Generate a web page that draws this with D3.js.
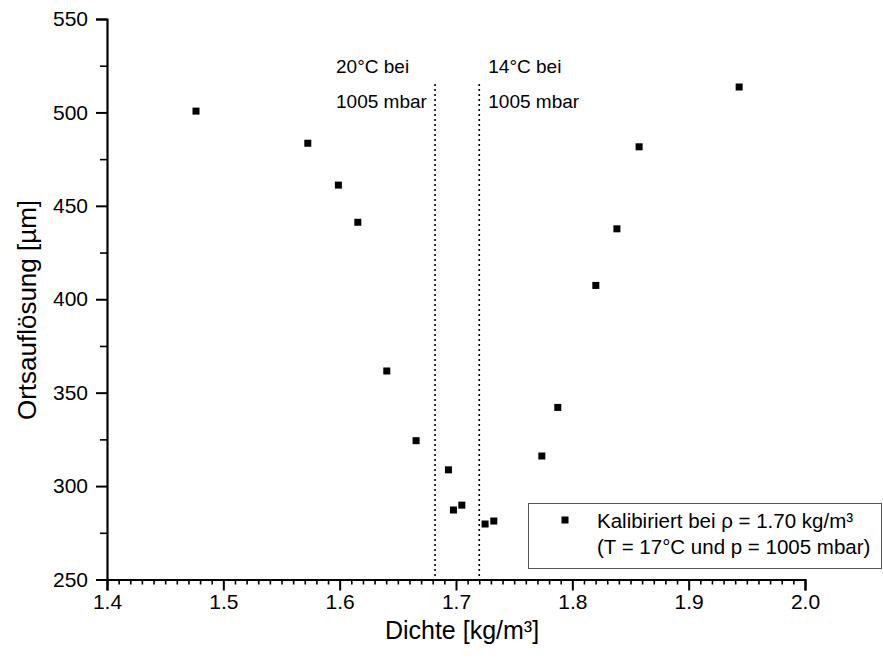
<!DOCTYPE html>
<html>
<head>
<meta charset="utf-8">
<script src="https://cdn.jsdelivr.net/npm/d3@7"></script>
<style>
  html, body { margin: 0; padding: 0; background: #fff; }
  svg { display: block; }
</style>
</head>
<body>
<svg id="chart" width="883" height="666" font-family="Liberation Sans, Arial, sans-serif"></svg>
<script>
// Data
const density = [1.4765, 1.5726, 1.5989, 1.6156, 1.6405, 1.6657, 1.6935, 1.6978, 1.7050, 1.7250, 1.7325, 1.7738, 1.7875, 1.8202, 1.8383, 1.8574, 1.9434];
const resolution = [500.7, 483.5, 461.1, 441.2, 361.6, 324.3, 308.7, 287.2, 289.8, 279.7, 281.3, 316.1, 342.1, 407.4, 437.7, 481.6, 513.6];
const refLines = [1.682, 1.720];
const refLabels = [["20°C bei", "1005 mbar"], ["14°C bei", "1005 mbar"]];
const xTicks = [1.4, 1.5, 1.6, 1.7, 1.8, 1.9, 2.0];
const yTicks = [250, 300, 350, 400, 450, 500, 550];
const xTitle = "Dichte [kg/m³]";
const yTitle = "Ortsauflösung [µm]";
const legendLines = ["Kalibiriert bei ρ = 1.70 kg/m³", "(T = 17°C und p = 1005 mbar)"];

const FONT = "Liberation Sans, Arial, sans-serif";
const svg = d3.select("#chart");
const x = d3.scaleLinear().domain([1.4, 2.0]).range([107, 805]);
const y = d3.scaleLinear().domain([250, 550]).range([579.5, 19]);

// Reference dotted lines
svg.selectAll(".ref").data(refLines).enter().append("line")
  .attr("x1", d => x(d)).attr("x2", d => x(d))
  .attr("y1", 84).attr("y2", y(250))
  .attr("stroke", "#000").attr("stroke-width", 1.6)
  .attr("stroke-dasharray", "2,3");

// Reference labels
refLabels.forEach((lab, i) => {
  const lx = i === 0 ? x(refLines[0]) - 99 : x(refLines[1]) + 9;
  svg.append("text").attr("x", lx).attr("y", 73).attr("font-size", 19).attr("font-family", FONT).text(lab[0]);
  svg.append("text").attr("x", lx).attr("y", 108).attr("font-size", 19).attr("font-family", FONT).text(lab[1]);
});

// Axes
const xMinor = d3.range(140, 201).map(v => v / 100).filter(v => Math.round(v * 100) % 10 !== 0);
const yMinor = d3.range(275, 550, 50);

const gx = svg.append("g").attr("transform", `translate(0,${y(250)})`);
gx.call(d3.axisBottom(x).tickValues(xMinor).tickSize(5).tickFormat(""));
gx.selectAll(".tick line").attr("stroke-width", 1.6);
gx.select(".domain").remove();
const gxM = svg.append("g").attr("transform", `translate(0,${y(250)})`);
gxM.call(d3.axisBottom(x).tickValues(xTicks).tickSize(11).tickPadding(4).tickFormat(d3.format(".1f")));
gxM.selectAll(".tick line").attr("stroke-width", 2);
gxM.selectAll(".tick text").attr("font-size", 21).attr("font-family", FONT).attr("fill", "#000");
gxM.select(".domain").attr("stroke-width", 2.2);

const gy = svg.append("g").attr("transform", `translate(${x(1.4)},0)`);
gy.call(d3.axisLeft(y).tickValues(yMinor).tickSize(7).tickFormat(""));
gy.selectAll(".tick line").attr("stroke-width", 1.6);
gy.select(".domain").remove();
const gyM = svg.append("g").attr("transform", `translate(${x(1.4)},0)`);
gyM.call(d3.axisLeft(y).tickValues(yTicks).tickSize(11).tickPadding(8).tickFormat(d3.format("d")));
gyM.selectAll(".tick line").attr("stroke-width", 2);
gyM.selectAll(".tick text").attr("font-size", 21).attr("font-family", FONT).attr("fill", "#000");
gyM.select(".domain").attr("stroke-width", 2.2);
svg.selectAll(".domain").attr("stroke", "#000");

// Points
const s = 7;
svg.selectAll(".pt").data(density).enter().append("rect")
  .attr("x", (d) => x(d) - s / 2)
  .attr("y", (d, i) => y(resolution[i]) - s / 2)
  .attr("width", s).attr("height", s).attr("fill", "#000");

// Titles
svg.append("text").attr("x", 462).attr("y", 639).attr("text-anchor", "middle")
  .attr("font-size", 25).attr("font-family", FONT).text(xTitle);
svg.append("text").attr("transform", "translate(36,310) rotate(-90)")
  .attr("text-anchor", "middle").attr("font-size", 26).attr("font-family", FONT).text(yTitle);

// Legend
svg.append("rect").attr("x", 528.5).attr("y", 503.5).attr("width", 353).attr("height", 65)
  .attr("fill", "#fff").attr("stroke", "#555").attr("stroke-width", 1);
svg.append("rect").attr("x", 565 - s / 2).attr("y", 520 - s / 2).attr("width", s).attr("height", s).attr("fill", "#000");
svg.append("text").attr("x", 597).attr("y", 528).attr("font-size", 20.5).attr("font-family", FONT).text(legendLines[0]);
svg.append("text").attr("x", 597).attr("y", 554).attr("font-size", 20.5).attr("font-family", FONT).text(legendLines[1]);
</script>
</body>
</html>
